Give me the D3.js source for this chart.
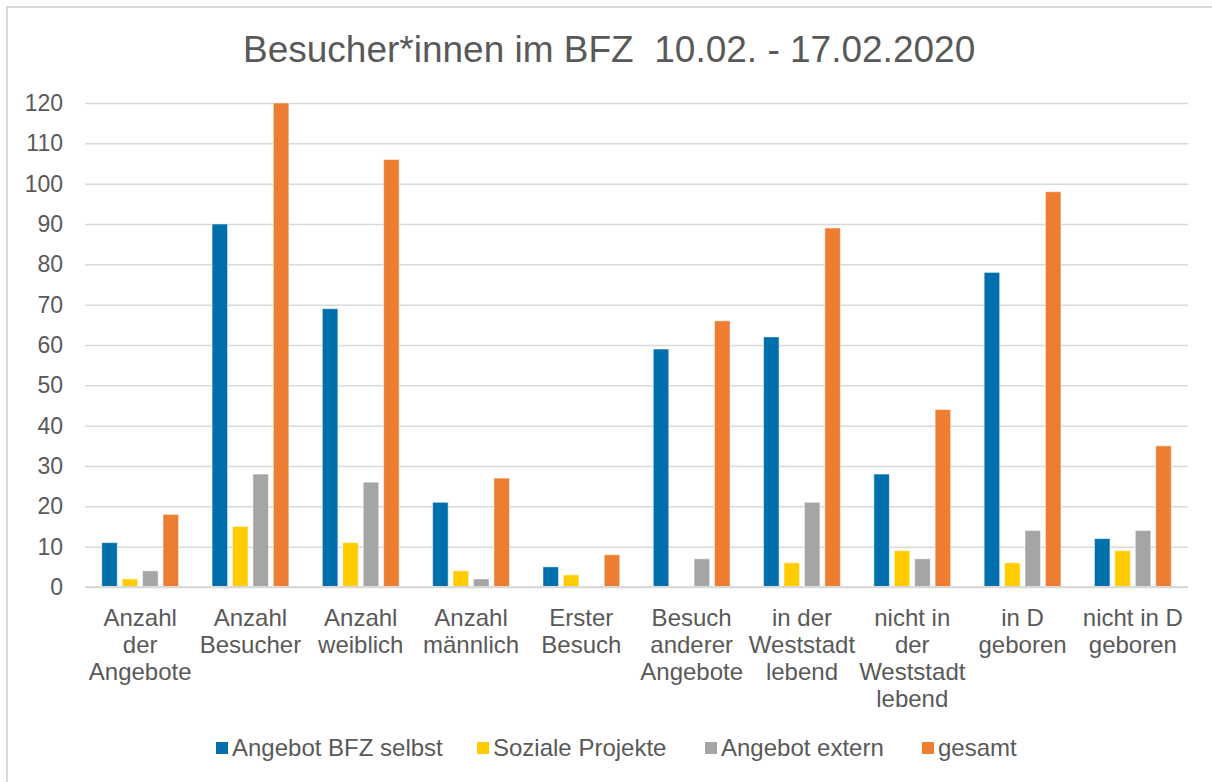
<!DOCTYPE html>
<html>
<head>
<meta charset="utf-8">
<script src="https://cdn.jsdelivr.net/npm/d3@7"></script>
<style>
  body { margin: 0; background: #fff; }
  text { font-family: "Liberation Sans", Arial, sans-serif; fill: #595959; }
</style>
</head>
<body>
<div class="bar-chart-container"></div>
<script>
const categories = [
   'Anzahl der Angebote', 'Anzahl Besucher', 'Anzahl weiblich', 'Anzahl männlich',
   'Erster Besuch', 'Besuch anderer Angebote', 'in der Weststadt lebend',
   'nicht in der Weststadt lebend', 'in D geboren', 'nicht in D geboren'
];
// how the category names break into lines under the axis
const categoryLines = [
   ['Anzahl', 'der', 'Angebote'], ['Anzahl', 'Besucher'], ['Anzahl', 'weiblich'],
   ['Anzahl', 'männlich'], ['Erster', 'Besuch'], ['Besuch', 'anderer', 'Angebote'],
   ['in der', 'Weststadt', 'lebend'], ['nicht in', 'der', 'Weststadt', 'lebend'],
   ['in D', 'geboren'], ['nicht in D', 'geboren']
];
const seriesNames = ['Angebot BFZ selbst', 'Soziale Projekte', 'Angebot extern', 'gesamt'];
const seriesColors = ['#0070ad', '#ffcc00', '#a5a5a5', '#ed7d31'];

const bfzSelbst      = [11, 90, 69, 21, 5, 59, 62, 28, 78, 12];
const sozialeProj    = [2, 15, 11, 4, 3, 0, 6, 9, 6, 9];
const angebotExtern  = [4, 28, 26, 2, 0, 7, 21, 7, 14, 14];
const gesamt         = [18, 120, 106, 27, 8, 66, 89, 44, 98, 35];
const yTicks = [0, 10, 20, 30, 40, 50, 60, 70, 80, 90, 100, 110, 120];

const title = 'Besucher*innen im BFZ  10.02. - 17.02.2020';

function build_chart() {
   const W = 1212, H = 782;
   const plot = {left: 85, right: 1188, top: 103, bottom: 587};

   const svg = d3.select('.bar-chart-container')
      .append('svg')
      .attr('width', W)
      .attr('height', H);

   // outer chart frame (continues past the visible area on right/bottom)
   svg.append('rect')
      .attr('x', 7).attr('y', 7)
      .attr('width', W + 20).attr('height', H + 20)
      .attr('fill', '#fff')
      .attr('stroke', '#d9d9d9')
      .attr('stroke-width', 2);

   svg.append('text')
      .attr('x', 243).attr('y', 62)
      .style('font-size', '37px')
      .style('white-space', 'pre')
      .text(title);

   const table = categories.map((c, i) => ({
      cat: c,
      values: [bfzSelbst[i], sozialeProj[i], angebotExtern[i], gesamt[i]]
   }));

   const x0 = d3.scaleBand()
      .domain(categories)
      .range([plot.left, plot.right])
      .padding(0);
   const x1 = d3.scaleBand()
      .domain(d3.range(seriesNames.length))
      .range([0, x0.bandwidth()])
      .paddingInner(0.24)
      .paddingOuter(0.82);
   const y = d3.scaleLinear()
      .domain([0, 120])
      .range([plot.bottom, plot.top]);

   // gridlines + y labels
   const yAxis = d3.axisLeft(y)
      .tickValues(yTicks)
      .tickSize(-(plot.right - plot.left))
      .tickPadding(22);
   const yg = svg.append('g')
      .attr('transform', `translate(${plot.left},0)`)
      .call(yAxis);
   yg.select('.domain').remove();
   yg.selectAll('.tick line').attr('stroke', '#d9d9d9').attr('stroke-width', 1.5);
   yg.selectAll('.tick text')
      .style('font-size', '23px')
      .style('font-family', '"Liberation Sans", Arial, sans-serif')
      .attr('fill', '#595959');

   // bars
   const groups = svg.append('g')
      .selectAll('g')
      .data(table)
      .join('g')
      .attr('transform', d => `translate(${x0(d.cat)},0)`);
   groups.selectAll('rect')
      .data(d => d.values.map((v, i) => ({i, v})))
      .join('rect')
      .attr('x', d => x1(d.i))
      .attr('y', d => y(d.v))
      .attr('width', x1.bandwidth())
      .attr('height', d => y(0) - y(d.v))
      .attr('fill', d => seriesColors[d.i])
      .attr('stroke', '#fff')
      .attr('stroke-opacity', 0.5)
      .attr('stroke-width', 1);

   // baseline
   svg.append('line')
      .attr('x1', plot.left).attr('x2', plot.right)
      .attr('y1', y(0)).attr('y2', y(0))
      .attr('stroke', '#d9d9d9').attr('stroke-width', 2);

   // category labels
   const catLabels = svg.append('g')
      .selectAll('text')
      .data(categories)
      .join('text')
      .attr('text-anchor', 'middle')
      .style('font-size', '24px')
      .attr('transform', d => `translate(${x0(d) + x0.bandwidth() / 2},${plot.bottom + 39})`);
   catLabels.selectAll('tspan')
      .data((d, i) => categoryLines[i])
      .join('tspan')
      .attr('x', 0)
      .attr('y', (d, i) => i * 27)
      .text(d => d);

   // legend
   const legendX = [216, 477, 705, 922];
   const legend = svg.append('g')
      .selectAll('g')
      .data(seriesNames)
      .join('g')
      .attr('transform', (d, i) => `translate(${legendX[i]},748)`);
   legend.append('rect')
      .attr('x', 0).attr('y', -6)
      .attr('width', 12).attr('height', 12)
      .attr('fill', (d, i) => seriesColors[i]);
   legend.append('text')
      .attr('x', 16).attr('y', 8)
      .style('font-size', '24px')
      .text(d => d);
}

build_chart();
</script>
</body>
</html>
